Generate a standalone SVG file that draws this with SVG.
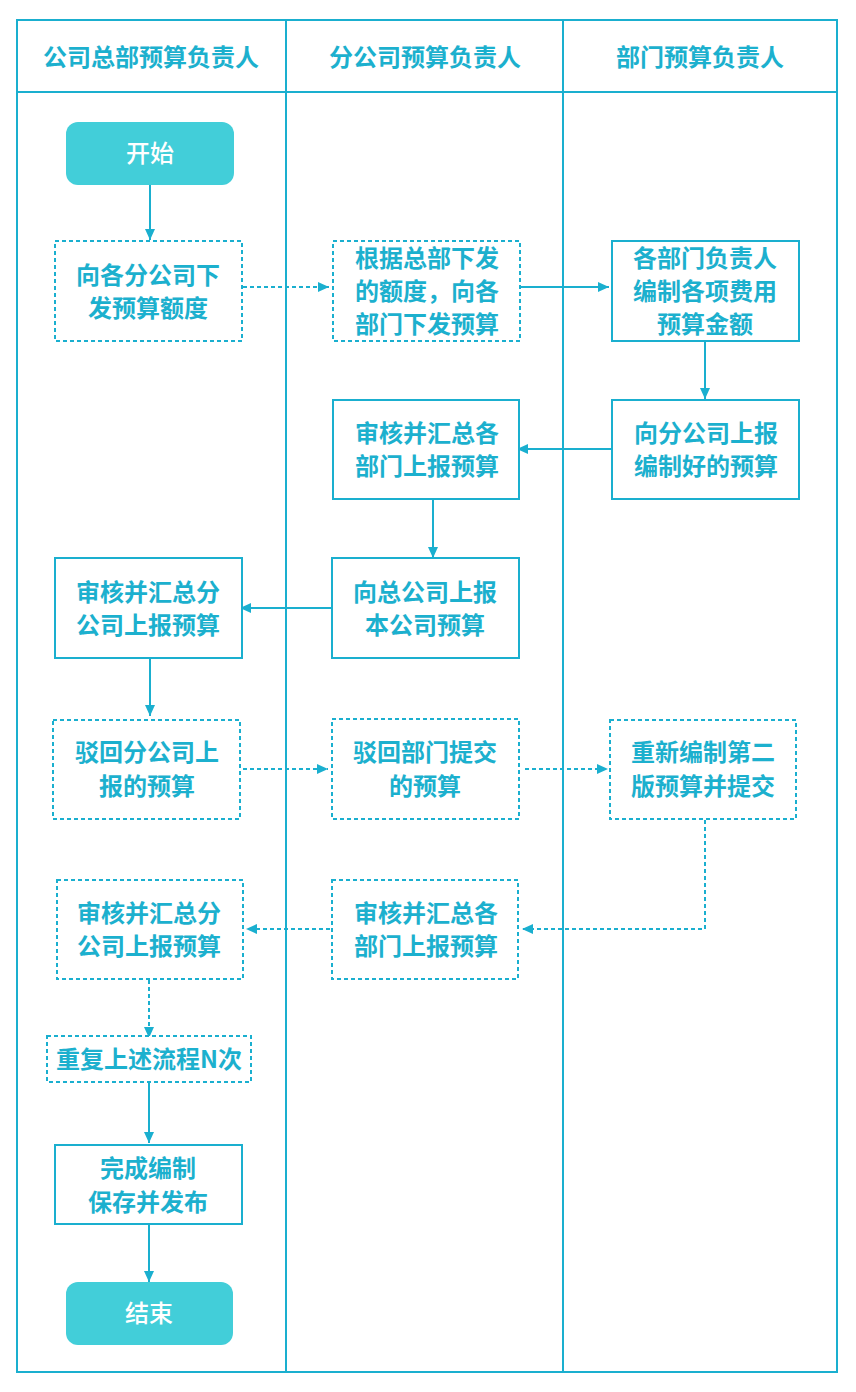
<svg xmlns="http://www.w3.org/2000/svg" width="856" height="1392" viewBox="0 0 856 1392">
<defs>
<style>
.frame{fill:none;stroke:#1AAFCF;stroke-width:2}
.box{fill:#fff;stroke:#1AAFCF;stroke-width:2}
.dbox{fill:#fff;stroke:#1AAFCF;stroke-width:2;stroke-dasharray:4 3}
.term{fill:#42CED9;stroke:none}
.t{font-family:"Noto Sans CJK SC","Noto Sans",sans-serif;font-size:24px;font-weight:600;fill:#1CB0CE;text-anchor:middle;dominant-baseline:central}
.tw{font-family:"Noto Sans CJK SC","Noto Sans",sans-serif;font-size:24px;font-weight:500;fill:#fff;text-anchor:middle;dominant-baseline:central}
.c{fill:none;stroke:#1AAFCF;stroke-width:2}
.dc{fill:none;stroke:#1AAFCF;stroke-width:2;stroke-dasharray:4 3}
</style>
<marker id="ah" markerUnits="userSpaceOnUse" markerWidth="12" markerHeight="12" viewBox="0 0 12 12" refX="11" refY="6" orient="auto">
<path d="M0,1 L11,6 L0,11 Z" fill="#1AAFCF"/>
</marker>
</defs>
<rect width="856" height="1392" fill="#fff"/>
<g id="lanes">
<rect class="frame" x="17" y="20" width="820" height="1352"/>
<line class="frame" x1="17" y1="92" x2="837" y2="92"/>
<line class="frame" x1="286" y1="20" x2="286" y2="1372"/>
<line class="frame" x1="563" y1="20" x2="563" y2="1372"/>
<text class="t" x="151" y="55">公司总部预算负责人</text>
<text class="t" x="425" y="55">分公司预算负责人</text>
<text class="t" x="700" y="55">部门预算负责人</text>
</g>
<g id="connectors">
<line class="c" x1="150" y1="185" x2="150" y2="240" marker-end="url(#ah)"/>
<line class="dc" x1="243" y1="287" x2="329" y2="287" marker-end="url(#ah)"/>
<line class="c" x1="521" y1="287" x2="609" y2="287" marker-end="url(#ah)"/>
<line class="c" x1="705" y1="341" x2="705" y2="399" marker-end="url(#ah)"/>
<line class="c" x1="612" y1="449" x2="517" y2="449" marker-end="url(#ah)"/>
<line class="c" x1="433" y1="500" x2="433" y2="558" marker-end="url(#ah)"/>
<line class="c" x1="332" y1="608" x2="240" y2="608" marker-end="url(#ah)"/>
<line class="c" x1="150" y1="658" x2="150" y2="716" marker-end="url(#ah)"/>
<line class="dc" x1="243" y1="769" x2="328" y2="769" marker-end="url(#ah)"/>
<line class="dc" x1="525" y1="769" x2="608" y2="769" marker-end="url(#ah)"/>
<polyline class="dc" points="705,820 705,929 522,929" marker-end="url(#ah)"/>
<line class="dc" x1="330" y1="929" x2="246" y2="929" marker-end="url(#ah)"/>
<line class="dc" x1="149" y1="980" x2="149" y2="1038" marker-end="url(#ah)"/>
<line class="c" x1="149" y1="1083" x2="149" y2="1143" marker-end="url(#ah)"/>
<line class="c" x1="149" y1="1224" x2="149" y2="1282" marker-end="url(#ah)"/>
</g>
<g id="start"><rect class="term" x="66" y="122" width="168" height="63" rx="12"/><text class="tw" x="150" y="151">开始</text></g>
<g id="n1"><rect class="dbox" x="55" y="241" width="187" height="100"/><text class="t" x="148" y="273">向各分公司下</text><text class="t" x="148" y="306">发预算额度</text></g>
<g id="n2"><rect class="dbox" x="333" y="241" width="187" height="100"/><text class="t" x="427" y="256">根据总部下发</text><text class="t" x="427" y="289">的额度，向各</text><text class="t" x="427" y="322">部门下发预算</text></g>
<g id="n3"><rect class="box" x="612" y="241" width="187" height="100"/><text class="t" x="705" y="256">各部门负责人</text><text class="t" x="705" y="289">编制各项费用</text><text class="t" x="705" y="322">预算金额</text></g>
<g id="n4"><rect class="box" x="612" y="400" width="187" height="99"/><text class="t" x="706" y="431">向分公司上报</text><text class="t" x="706" y="464">编制好的预算</text></g>
<g id="n5"><rect class="box" x="333" y="400" width="186" height="99"/><text class="t" x="427" y="431">审核并汇总各</text><text class="t" x="427" y="464">部门上报预算</text></g>
<g id="n6"><rect class="box" x="332" y="558" width="187" height="100"/><text class="t" x="425" y="590">向总公司上报</text><text class="t" x="425" y="623">本公司预算</text></g>
<g id="n7"><rect class="box" x="55" y="558" width="187" height="100"/><text class="t" x="148" y="590">审核并汇总分</text><text class="t" x="148" y="623">公司上报预算</text></g>
<g id="n8"><rect class="dbox" x="53" y="720" width="187" height="99"/><text class="t" x="147" y="750">驳回分公司上</text><text class="t" x="147" y="784">报的预算</text></g>
<g id="n9"><rect class="dbox" x="332" y="719" width="187" height="100"/><text class="t" x="425" y="750">驳回部门提交</text><text class="t" x="425" y="784">的预算</text></g>
<g id="n10"><rect class="dbox" x="610" y="720" width="186" height="99"/><text class="t" x="703" y="750">重新编制第二</text><text class="t" x="703" y="784">版预算并提交</text></g>
<g id="n11"><rect class="dbox" x="332" y="880" width="186" height="99"/><text class="t" x="426" y="911">审核并汇总各</text><text class="t" x="426" y="944">部门上报预算</text></g>
<g id="n12"><rect class="dbox" x="57" y="880" width="186" height="99"/><text class="t" x="149" y="911">审核并汇总分</text><text class="t" x="149" y="944">公司上报预算</text></g>
<g id="n13"><rect class="dbox" x="47" y="1036" width="204" height="46"/><text class="t" x="149" y="1057">重复上述流程N次</text></g>
<g id="n14"><rect class="box" x="55" y="1145" width="187" height="79"/><text class="t" x="148" y="1166">完成编制</text><text class="t" x="148" y="1200">保存并发布</text></g>
<g id="end"><rect class="term" x="66" y="1282" width="167" height="63" rx="12"/><text class="tw" x="149" y="1311">结束</text></g>
</svg>
